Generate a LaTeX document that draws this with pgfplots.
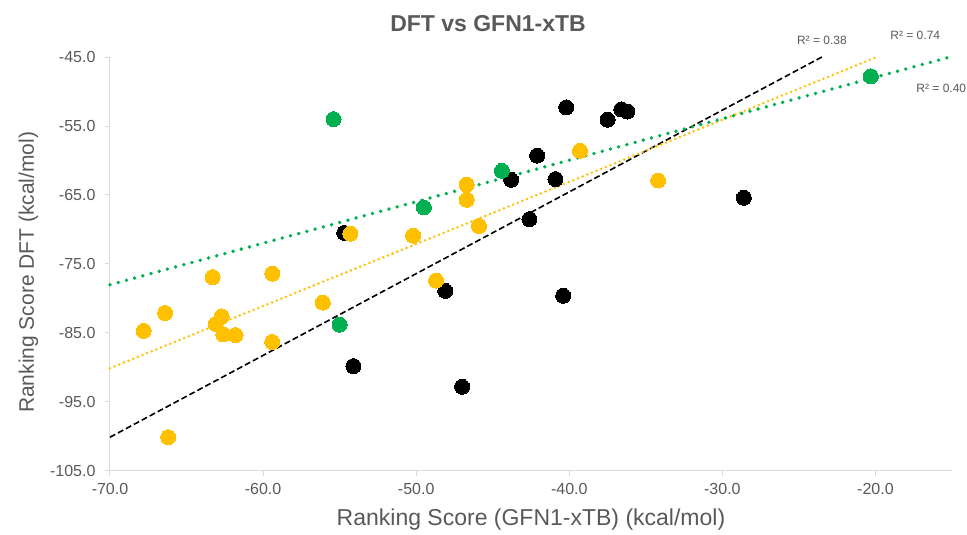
\documentclass[border=0pt]{standalone}
\usepackage{fontspec}
\setmainfont{Liberation Sans}
\usepackage{pgfplots}
\pgfplotsset{compat=1.18}
\definecolor{cgold}{HTML}{FFC000}
\definecolor{cgreen}{HTML}{00B050}
\definecolor{ctext}{HTML}{595959}
\definecolor{caxis}{HTML}{D9D9D9}

\begin{document}
\begin{tikzpicture}
\path[use as bounding box] (0,0) rectangle (967pt,535pt);
\begin{axis}[
  at={(110pt,64pt)}, anchor=south west,
  scale only axis, width=842pt, height=414pt,
  xmin=-70, xmax=-15, ymin=-105, ymax=-45,
  xtick={-70,-60,...,-20}, ytick={-105,-95,...,-45},
  axis x line*=bottom, axis y line*=left,
  axis line style={caxis, line width=1pt},
  tick align=outside, major tick length=5pt,
  tick style={caxis, line width=1pt},
  /pgf/number format/assume math mode=true,
  /pgf/number format/.cd, fixed, fixed zerofill, precision=1, /pgfplots/.cd,
  ticklabel style={font=\fontsize{16}{18}\selectfont, text=ctext},
  xticklabel style={yshift=-4pt},
  yticklabel style={xshift=-6pt},
  xlabel={Ranking Score (GFN1-xTB) (kcal/mol)},
  ylabel={Ranking Score DFT (kcal/mol)},
  xlabel style={at={(axis description cs:0.5,-0.118)}, anchor=center,
    font=\fontsize{23}{26}\selectfont, text=ctext},
  ylabel style={at={(axis description cs:-0.097,0.48)}, anchor=center,
    font=\fontsize{21}{24}\selectfont, text=ctext},
  title={DFT vs GFN1-xTB},
  title style={at={(axis description cs:0.449,1)}, yshift=27pt, anchor=center,
    font=\bfseries\fontsize{23}{26}\selectfont, text=ctext},
  clip=false,
]
% black series
\addplot[only marks, color=black, mark=*, mark size=7.5pt, mark options={fill=black, draw=black, line width=0pt}] coordinates {
(-54.7,-70.5) (-40.2,-52.3) (-37.5,-54.1) (-36.6,-52.6) (-36.2,-52.9)
(-42.1,-59.3) (-43.8,-62.8) (-40.9,-62.7) (-42.6,-68.5) (-48.1,-78.9)
(-40.4,-79.6) (-54.1,-89.8) (-47.0,-92.8) (-28.6,-65.4)
};
% green series
\addplot[only marks, color=cgreen, mark=*, mark size=7.5pt, mark options={fill=cgreen, draw=cgreen, line width=0pt}] coordinates {
(-55.4,-54.0) (-44.4,-61.5) (-49.5,-66.8) (-55.0,-83.8) (-20.3,-47.8)
};
% gold series
\addplot[only marks, color=cgold, mark=*, mark size=7.5pt, mark options={fill=cgold, draw=cgold, line width=0pt}] coordinates {
(-67.8,-84.7) (-66.4,-82.1) (-63.3,-76.9) (-59.4,-76.4) (-62.7,-82.6)
(-63.1,-83.7) (-62.6,-85.2) (-61.8,-85.3) (-59.4,-86.3) (-56.1,-80.6)
(-66.2,-100.1) (-54.3,-70.6) (-50.2,-70.9) (-46.7,-63.5) (-46.7,-65.7)
(-45.9,-69.5) (-39.3,-58.6) (-34.2,-62.9) (-48.7,-77.4)
};
% trendlines
\addplot[black, line width=1.6pt, dash pattern=on 6pt off 3pt] coordinates {(-70,-100.1) (-23.5,-45.0)};
\addplot[cgold, line width=2.8pt, line cap=round, dash pattern=on 0pt off 5pt] coordinates {(-70,-90.1) (-19.9,-45.0)};
\addplot[cgreen, line width=3.8pt, line cap=round, dash pattern=on 0pt off 8.5pt] coordinates {(-70,-78.0) (-15.3,-45.1)};
% R^2 labels
\node[font=\fontsize{12}{14}\selectfont, text=ctext] at (axis cs:-23.5,-42.6) {R² = 0.38};
\node[font=\fontsize{12}{14}\selectfont, text=ctext] at (axis cs:-17.4,-41.9) {R² = 0.74};
\node[font=\fontsize{12}{14}\selectfont, text=ctext] at (axis cs:-15.7,-49.5) {R² = 0.40};
\end{axis}
\end{tikzpicture}
\end{document}
